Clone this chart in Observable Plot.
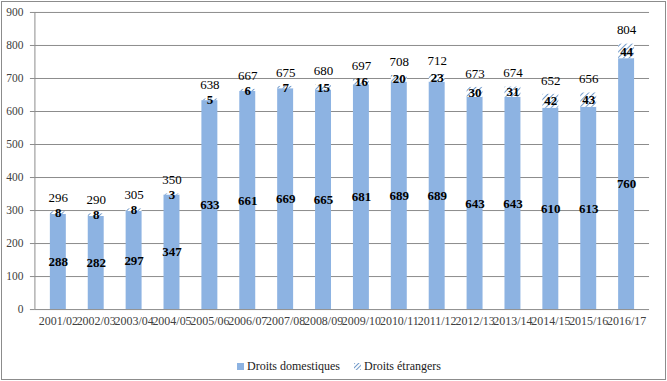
<!DOCTYPE html>
<html><head><meta charset="utf-8">
<script src="https://cdn.jsdelivr.net/npm/d3@7"></script>
<script src="https://cdn.jsdelivr.net/npm/@observablehq/plot@0.6"></script>
<style>
body{margin:0;background:#fff;}
#frame{position:absolute;left:1px;top:1px;width:663px;height:377px;border:1px solid #8c8c8c;background:#fff;overflow:hidden;}
#chart{position:absolute;left:0;top:0;}
#legend{position:absolute;top:357px;left:0;width:663px;font-family:"Liberation Serif","Times New Roman",serif;font-size:12px;color:#222;}
.lg{position:absolute;top:0;display:flex;align-items:center;white-space:nowrap;}
.sw{display:inline-block;width:7px;height:7px;margin-right:3px;}
</style></head>
<body>
<div id="frame"><div id="chart"></div><div id="legend">
<div class="lg" style="left:235px"><span class="sw" style="background:#8DB3E2"></span>Droits domestiques</div>
<div class="lg" style="left:352px"><svg width="7" height="7" style="margin-right:3px"><rect width="7" height="7" fill="url(#hatchL)"/><defs><pattern id="hatchL" patternUnits="userSpaceOnUse" width="3" height="3" patternTransform="rotate(45)"><rect width="3" height="3" fill="#fff"/><line x1="0" y1="0" x2="0" y2="3" stroke="#4F81BD" stroke-width="1.6"/></pattern></defs></svg>Droits étrangers</div>
</div></div>
<script>
const years = ["2001/02","2002/03","2003/04","2004/05","2005/06","2006/07","2007/08","2008/09","2009/10","2010/11","2011/12","2012/13","2013/14","2014/15","2015/16","2016/17"];
const domestiques = [288,282,297,347,633,661,669,665,681,689,689,643,643,610,613,760];
const etrangers = [8,8,8,3,5,6,7,15,16,20,23,30,31,42,43,44];
const totaux = [296,290,305,350,638,667,675,680,697,708,712,673,674,652,656,804];
const yTicks = [0,100,200,300,400,500,600,700,800,900];

const rows = years.map((y,i)=>({year:y, dom:domestiques[i], etr:etrangers[i], tot:totaux[i]}));

const serif = '"Liberation Serif","Times New Roman",serif';
const plot = Plot.plot({
  width: 665, height: 345,
  marginLeft: 33, marginRight: 16, marginTop: 10, marginBottom: 37,
  style: {fontFamily: serif, background: "transparent"},
  x: {domain: years, paddingInner: 0.58, paddingOuter: 0.29, label: null},
  y: {domain: [0, 900], label: null},
  marks: [
    Plot.ruleY(yTicks.filter(d=>d>0), {stroke: "#8c8c8c", strokeWidth: 1}),
    Plot.barY(rows, {x: "year", y1: 0, y2: "dom", fill: "#8DB3E2"}),
    Plot.barY(rows, {x: "year", y1: "dom", y2: d=>d.dom+d.etr, fill: "url(#hatch)"}),
    Plot.ruleY([0], {stroke: "#8c8c8c"}),
    Plot.axisY({ticks: yTicks, tickSize: 5, tickPadding: 7, stroke: "#8c8c8c", fontSize: 11.5, fill: "#404040", label: null}),
    Plot.axisX({tickSize: 0, tickPadding: 7, fontSize: 12, fill: "#404040", label: null}),
    Plot.text(rows, {x: "year", y: d=>d.dom/2, text: "dom", fontWeight: "bold", fontSize: 13, fill: "#000"}),
    Plot.text(rows, {x: "year", y: d=>d.dom+d.etr/2, text: "etr", fontWeight: "bold", fontSize: 13, fill: "#000"}),
    Plot.text(rows, {x: "year", y: "tot", text: "tot", dy: -14, fontSize: 13, fill: "#000"})
  ]
});
const svg = d3.select(plot);
svg.insert("defs", ":first-child").html(
 '<pattern id="hatch" patternUnits="userSpaceOnUse" width="4" height="4" patternTransform="rotate(45)"><rect width="4" height="4" fill="#fff"/><line x1="0" y1="0" x2="0" y2="4" stroke="#4F81BD" stroke-width="1.6"/></pattern>');
svg.append("line").attr("x1",33).attr("x2",33).attr("y1",10).attr("y2",308).attr("stroke","#8c8c8c");
document.getElementById("chart").appendChild(plot);
</script>
</body></html>
